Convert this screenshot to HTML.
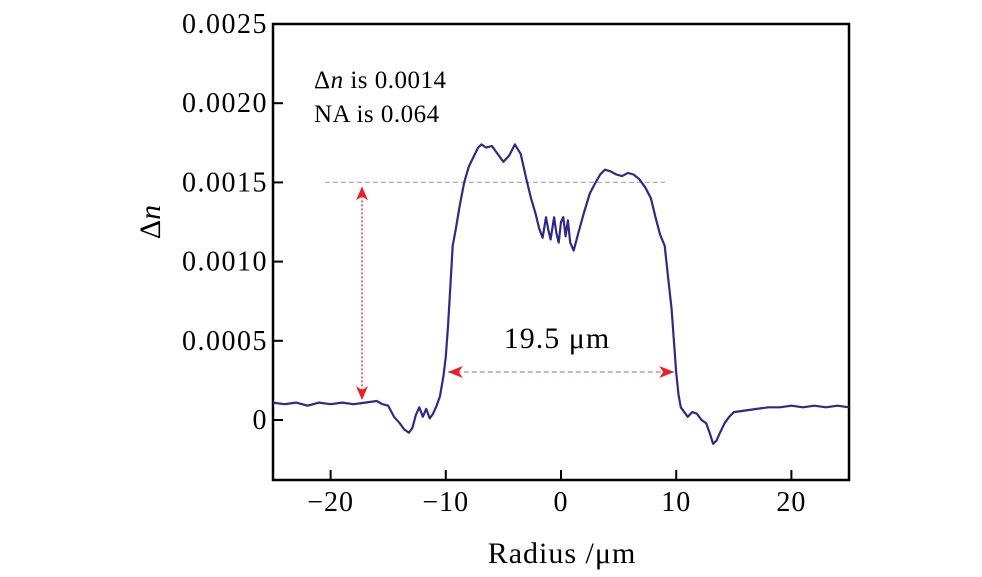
<!DOCTYPE html>
<html><head><meta charset="utf-8"><style>
html,body{margin:0;padding:0;background:#fff;}
svg{display:block;font-family:"Liberation Serif",serif;}
</style></head><body>
<svg id="chart" width="982" height="577">
<g id="ann"></g>
<g id="axes"></g>
<path id="series" fill="none" stroke="#2e2a86" stroke-width="2.2" stroke-linejoin="round"/>
</svg>
<script>
const xTicks=[-20,-10,0,10,20];
const yTicks=[0,0.0005,0.0010,0.0015,0.0020,0.0025];
const yTickLabels=["0","0.0005","0.0010","0.0015","0.0020","0.0025"];
const radius=[-25,-24,-23,-22,-21,-20,-19,-18,-17,-16,-15.5,-15,-14.5,-14,-13.6,-13.2,-12.9,-12.6,-12.3,-12,-11.7,-11.4,-11.1,-10.8,-10.5,-10.2,-10,-9.8,-9.6,-9.4,-9.1,-8.8,-8.4,-8,-7.6,-7.2,-6.9,-6.5,-6,-5.5,-5,-4.5,-4,-3.5,-3,-2.6,-2.2,-1.9,-1.6,-1.3,-1.1,-0.9,-0.6,-0.4,-0.2,0,0.2,0.4,0.6,0.8,1.1,1.5,2,2.5,3,3.4,3.8,4.3,4.8,5.3,5.8,6.3,6.8,7.3,7.8,8.2,8.6,9,9.3,9.6,9.8,10,10.2,10.4,10.7,11,11.4,11.8,12.2,12.6,12.9,13.2,13.5,13.8,14.2,14.6,15,16,17,18,19,20,21,22,23,24,25];
const deltaN=[0.00011,0.00010,0.00011,0.00009,0.00011,0.00010,0.00011,0.00010,0.00011,0.00012,0.00010,0.00009,0.00002,-0.00002,-0.00006,-0.00008,-0.00005,0.00003,0.00008,0.00002,0.00007,0.00001,0.00004,0.00009,0.00015,0.00028,0.00040,0.00060,0.00085,0.00110,0.00122,0.00135,0.00150,0.00160,0.00166,0.00172,0.00174,0.00172,0.00173,0.00168,0.00163,0.00167,0.00174,0.00168,0.00152,0.00140,0.00130,0.00121,0.00115,0.00128,0.00120,0.00114,0.00128,0.00118,0.00112,0.00125,0.00128,0.00116,0.00126,0.00112,0.00107,0.00118,0.00131,0.00143,0.00150,0.00155,0.00158,0.00157,0.00155,0.00154,0.00156,0.00155,0.00152,0.00147,0.00140,0.00128,0.00117,0.00110,0.00090,0.00070,0.00050,0.00030,0.00016,0.00008,0.00005,0.00002,0.00005,0.00004,0.00000,-0.00002,-0.00008,-0.00015,-0.00013,-0.00008,-0.00002,0.00002,0.00005,0.00006,0.00007,0.00008,0.00008,0.00009,0.00008,0.00009,0.00008,0.00009,0.00008,0.00008];
const L=273,R=849,T=24,B=480;
const X=v=>L+(v+25)/50*(R-L);
const Y=v=>420-(v/0.0025)*(420-T);
const NS="http://www.w3.org/2000/svg";
function mk(tag,attrs,parent,text){const e=document.createElementNS(NS,tag);for(const k in attrs)e.setAttribute(k,attrs[k]);if(text!==undefined)e.textContent=text;parent.appendChild(e);return e;}
const ax=document.getElementById('axes');
const frame=mk('rect',{x:L,y:T,width:R-L,height:B-T,fill:'none',stroke:'#000','stroke-width':2.5},ax);


xTicks.forEach(t=>{
  const ln=mk('line',{x1:X(t),x2:X(t),y1:B,y2:B-10,stroke:'#000','stroke-width':2},ax);
  
  
  const tx=mk('text',{x:X(t),y:B+31,'text-anchor':'middle','font-size':28,'letter-spacing':1},ax,t<0?'\u2212'+Math.abs(t):String(t));
  
  
});
yTicks.forEach((t,i)=>{
  const ln=mk('line',{x1:L,x2:L+10,y1:Y(t),y2:Y(t),stroke:'#000','stroke-width':2},ax);
  
  
  const tx=mk('text',{x:L-5,y:Y(t)+9,'text-anchor':'end','font-size':28,'letter-spacing':1.5},ax,yTickLabels[i]);
  
  
});
const xt=mk('text',{x:562,y:563,'text-anchor':'middle','font-size':30,'letter-spacing':1},ax,'Radius /\u03bcm');


const yt=mk('text',{transform:'translate(160,222) rotate(-90)','text-anchor':'middle','font-size':30},ax);


mk('tspan',{},yt,'\u0394');mk('tspan',{'font-style':'italic'},yt,'n');
const a1=mk('text',{x:314,y:88,'font-size':25,'letter-spacing':0.5},ax);


mk('tspan',{},a1,'\u0394');mk('tspan',{'font-style':'italic'},a1,'n');mk('tspan',{},a1,' is 0.0014');
const a2=mk('text',{x:314,y:122,'font-size':25,'letter-spacing':0.5},ax,'NA is 0.064');


const an=document.getElementById('ann');
const h1=mk('line',{x1:325,x2:665,y1:Y(0.0015),y2:Y(0.0015),stroke:'#b9a9c0','stroke-width':1.2,'stroke-dasharray':'5,3'},an);


const v1=mk('line',{x1:362,x2:362,y1:Y(0.0015)+6,y2:Y(0.0001)-6,stroke:'#e02a2a','stroke-width':1.3,'stroke-dasharray':'2,2'},an);


const yy=372;
const h2=mk('line',{x1:X(-10)+2,x2:X(10)-2,y1:yy,y2:yy,stroke:'#c77a9a','stroke-width':1.3,'stroke-dasharray':'5,3'},an);


const heads=[[362,Y(0.0015)+4,'M0,0 L-6,14 L0,10 L6,14Z'],[362,Y(0.0001)-4,'M0,0 L-6,-14 L0,-10 L6,-14Z'],[X(-10)+2,yy,'M0,0 L15,-6 L11,0 L15,6Z'],[X(10)-2,yy,'M0,0 L-15,-6 L-11,0 L-15,6Z']];
heads.forEach(h=>{const p=mk('path',{d:h[2],transform:`translate(${h[0]},${h[1]})`,fill:'#e82222'},an);

});
const wt=mk('text',{x:557,y:348,'text-anchor':'middle','font-size':30,'letter-spacing':1},an,'19.5 \u03bcm');


document.getElementById('series').setAttribute('d',radius.map((r,i)=>(i?'L':'M')+X(r).toFixed(1)+','+Y(deltaN[i]).toFixed(1)).join(' '));
</script>
</body></html>
